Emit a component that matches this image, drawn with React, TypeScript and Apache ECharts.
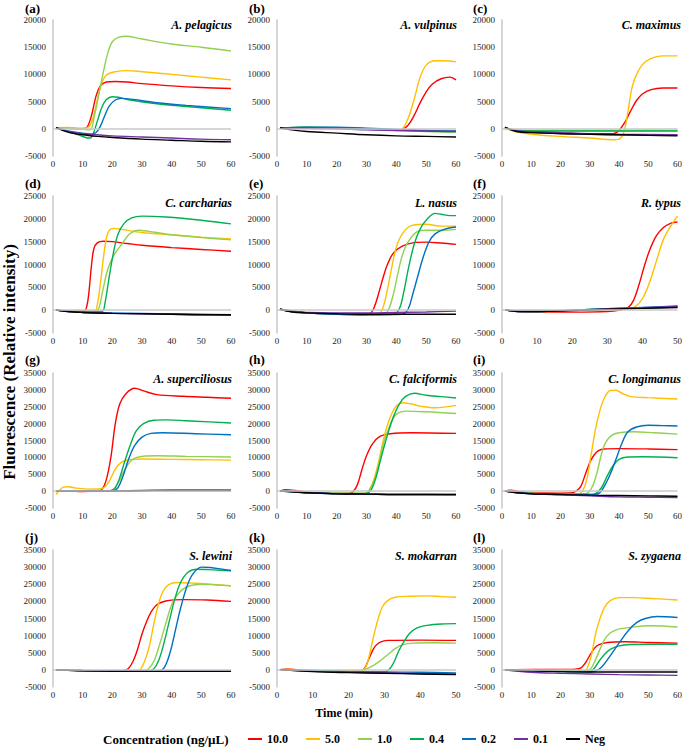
import React, { useEffect, useRef } from 'react';
import * as echarts from 'echarts';

const FONT = '"Liberation Serif", "Times New Roman", serif';

const CONC = ['10.0', '5.0', '1.0', '0.4', '0.2', '0.1', 'Neg'];
const COLORS = ['#FF0000', '#FFC000', '#92D050', '#00B050', '#0070C0', '#7030A0', '#000000'];
const PANEL_LABELS = ['(a)', '(b)', '(c)', '(d)', '(e)', '(f)', '(g)', '(h)', '(i)', '(j)', '(k)', '(l)'];
const SPECIES = ['A. pelagicus', 'A. vulpinus', 'C. maximus', 'C. carcharias', 'L. nasus', 'R. typus',
  'A. superciliosus', 'C. falciformis', 'C. longimanus', 'S. lewini', 'S. mokarran', 'S. zygaena'];
const X_MAX = [60, 60, 60, 60, 60, 50, 60, 60, 60, 60, 50, 60];
const Y_MAX = [20000, 20000, 20000, 25000, 25000, 25000, 35000, 35000, 35000, 35000, 35000, 35000];
const Y_MIN = -5000;
const X_TICK = 10;
const Y_TICK = 5000;

// (a) A. pelagicus
const a10 = [[1,200],[5,100],[10,0],[11.5,300],[13,2500],[14.5,6000],[16,7900],[18,8600],[21,8700],[25,8600],[30,8300],[40,7900],[50,7600],[60,7400]];
const a5 = [[1,200],[5,250],[10,100],[12,300],[13.5,2000],[15,5500],[16.5,8500],[18,9900],[21,10500],[25,10700],[30,10500],[40,10000],[50,9500],[60,9000]];
const a1 = [[1,200],[5,100],[10,-100],[12.5,-200],[14,2500],[15.5,6500],[17,10500],[18.5,14000],[20,16000],[22,16800],[25,17000],[30,16500],[40,15600],[50,15000],[60,14300]];
const a04 = [[1,200],[4,-300],[8,-1000],[11,-1600],[12.5,-1700],[13.5,-1000],[15,1500],[16.5,4000],[18,5400],[20,5900],[22,5800],[26,5300],[35,4600],[45,4100],[60,3400]];
const a02 = [[1,200],[5,-400],[10,-800],[13,-1000],[14.5,-700],[16,500],[17.5,2500],[19,4200],[21,5300],[23,5600],[27,5400],[35,4800],[45,4300],[60,3700]];
const a01 = [[1,200],[5,-500],[10,-900],[15,-1100],[20,-1300],[30,-1500],[40,-1700],[50,-1900],[60,-2000]];
const aNeg = [[1,200],[5,-600],[10,-1100],[15,-1400],[20,-1600],[30,-1900],[40,-2100],[50,-2300],[60,-2400]];

// (b) A. vulpinus
const b10 = [[1,100],[10,200],[20,100],[30,-100],[40,-200],[42,-100],[44,700],[46,2500],[48,4800],[50,6800],[52,8200],[55,9200],[58,9500],[60,9000]];
const b5 = [[1,100],[10,200],[20,100],[30,-100],[40,-200],[42,0],[44,2000],[46,5500],[48,9500],[50,11700],[53,12500],[56,12500],[60,12300]];
const b1 = [[1,100],[10,300],[20,200],[30,0],[40,-300],[50,-500],[60,-600]];
const b04 = [[1,100],[10,300],[20,200],[30,0],[40,-200],[50,-400],[60,-500]];
const b02 = [[1,100],[10,300],[20,300],[30,100],[40,-100],[50,-300],[60,-400]];
const b01 = [[1,100],[10,100],[20,0],[30,-200],[40,-300],[50,-400],[60,-500]];
const bNeg = [[1,200],[5,-200],[10,-500],[20,-800],[30,-1100],[40,-1300],[50,-1400],[60,-1500]];

// (c) C. maximus
const c10 = [[1,200],[5,-500],[10,-700],[20,-800],[30,-900],[38,-900],[40,-300],[42,1200],[44,3300],[46,5200],[48,6400],[51,7200],[55,7500],[60,7500]];
const c5 = [[1,200],[3,-300],[5,-600],[10,-1000],[20,-1400],[30,-1700],[38,-2000],[40,-1900],[41,-1400],[42,0],[43,3000],[44.5,7700],[46,10000],[48,11800],[50.5,12800],[55,13400],[60,13400]];
const c1 = [[1,200],[5,-200],[10,-300],[20,-300],[30,-300],[40,-300],[60,-300]];
const c04 = [[1,200],[5,-300],[10,-400],[20,-400],[30,-400],[40,-400],[60,-400]];
const c02 = [[1,200],[5,-400],[10,-600],[20,-800],[30,-1000],[40,-1100],[50,-1100],[60,-1200]];
const c01 = [[1,200],[5,-400],[10,-500],[20,-700],[30,-900],[40,-1000],[60,-1100]];
const cNeg = [[1,300],[5,-500],[10,-700],[20,-900],[30,-1000],[40,-1100],[50,-1200],[60,-1300]];

// (d) C. carcharias
const d10 = [[1,0],[5,-200],[10.5,-200],[11.5,1200],[12.2,4500],[13,10000],[13.8,13500],[15,14800],[17,15100],[20,15000],[25,14600],[30,14200],[40,13700],[50,13300],[60,12900]];
const d5 = [[1,0],[5,-200],[10,-300],[14,-300],[15,1500],[16,6000],[17,11500],[18,15800],[19,17500],[20.5,17900],[23,17700],[30,17000],[40,16500],[50,16000],[60,15600]];
const d1 = [[1,0],[5,-200],[10,-300],[14.5,-300],[15.5,500],[17,5000],[18.5,9000],[20.5,12000],[23,14300],[26,16800],[29,17500],[32,17300],[40,16500],[50,15900],[60,15400]];
const d04 = [[1,0],[5,-200],[10,-300],[16.5,-300],[17.5,1500],[19,7500],[20.5,13000],[22,16800],[24,19000],[26.5,20200],[30,20600],[38,20400],[50,19700],[60,18900]];
const d02 = [[1,0],[5,-300],[10,-500],[20,-600],[30,-700],[40,-800],[50,-900],[60,-1000]];
const d01 = [[1,100],[5,-300],[10,-500],[20,-700],[30,-800],[40,-900],[50,-1000],[60,-1100]];
const dNeg = [[1,100],[5,-300],[10,-500],[20,-700],[30,-800],[40,-900],[50,-1000],[60,-1000]];

// (e) L. nasus
const e10 = [[1,200],[5,-300],[10,-600],[20,-900],[28,-1000],[31,-800],[32.5,500],[34,3500],[35.5,7000],[37,10000],[39,12500],[42,14000],[46,14800],[50,14900],[55,14700],[60,14400]];
const e5 = [[1,200],[10,-600],[20,-800],[30,-900],[34,-800],[35.5,500],[37,4500],[38.5,9500],[40,13800],[42,16700],[45,18500],[50,18800],[55,18400],[60,18400]];
const e1 = [[1,200],[10,-600],[20,-800],[30,-900],[36,-800],[37.5,300],[39,3500],[40.5,8000],[42,12000],[44,15000],[47,17200],[50,17500],[55,17500],[60,17700]];
const e04 = [[1,200],[10,-600],[20,-900],[30,-1000],[39,-900],[41,300],[42.5,4000],[44,9000],[46,14500],[48,17800],[50,19700],[53,21200],[55,21000],[58,20700],[60,20700]];
const e02 = [[1,200],[10,-600],[20,-900],[30,-1000],[42,-900],[44,300],[45.5,3500],[47,7000],[49,11600],[51,15000],[53,16700],[56,17700],[60,18200]];
const e01 = [[1,200],[5,-300],[10,-500],[20,-600],[30,-600],[40,-500],[50,-400],[60,-200]];
const eNeg = [[1,200],[5,-400],[10,-600],[20,-800],[30,-900],[40,-900],[50,-900],[60,-900]];

// (f) R. typus
const f10 = [[1,0],[5,-300],[10,-400],[20,-400],[30,-300],[34,100],[36,600],[37.5,2200],[39,5500],[40.5,9500],[42,13000],[44,16300],[46,18100],[48,19000],[50,19300]];
const f5 = [[1,0],[5,-200],[10,-300],[20,-200],[30,0],[36,400],[38,800],[40,2500],[42,6000],[44,10800],[46,15500],[48,18300],[50,20600]];
const f1 = [[1,0],[5,-300],[10,-300],[20,0],[30,300],[40,500],[50,800]];
const f04 = [[1,0],[5,-300],[10,-300],[20,0],[30,250],[40,450],[50,700]];
const f02 = [[1,0],[5,-300],[10,-300],[20,0],[30,300],[40,600],[50,900]];
const f01 = [[1,0],[5,-300],[10,-300],[20,-50],[30,300],[40,550],[50,800]];
const fNeg = [[1,100],[5,-300],[10,-300],[20,-100],[30,200],[40,400],[50,600]];

// (g) A. superciliosus
const g10 = [[1,0],[5,0],[10,-100],[15,100],[16.5,500],[18,3500],[19.5,10000],[21,20000],[22.5,25800],[24.5,28800],[27.5,30500],[30.5,29700],[35,28600],[44,28100],[52,27800],[60,27500]];
const g5 = [[1,-1000],[2.3,300],[3.5,1200],[5,1300],[8,900],[12,600],[16,700],[17.5,1200],[19,3000],[21,6500],[23,8500],[25.5,9300],[30,9500],[40,9400],[50,9300],[60,9200]];
const g1 = [[1,0],[10,0],[19,100],[20.5,600],[22,2500],[24,6000],[26,8800],[28,9900],[31,10400],[35,10500],[45,10300],[60,10100]];
const g04 = [[1,0],[10,0],[19.5,100],[21,1000],[22.5,4000],[24,8300],[26,13500],[28,17800],[30.5,20000],[34,21000],[38,21100],[48,20700],[60,20200]];
const g02 = [[1,0],[10,0],[20.5,100],[22,1200],[23.5,4200],[25.5,9500],[27.5,13500],[30,16000],[33,17100],[37,17300],[48,17000],[60,16700]];
const g01 = [[1,0],[10,0],[20,100],[30,200],[40,300],[50,300],[60,300]];
const gNeg = [[1,0],[10,0],[20,0],[30,100],[40,200],[50,200],[60,200]];

// (h) C. falciformis
const h10 = [[1,0],[3,400],[6,200],[10,-300],[15,-600],[20,-700],[24,-700],[25.5,-200],[27,2000],[28.5,6500],[30,10500],[32,14000],[34.5,16200],[38,17000],[45,17300],[60,17100]];
const h5 = [[1,0],[10,-400],[20,-700],[29.5,-700],[31,500],[32.5,3500],[34,8500],[35.5,14500],[37,19500],[38.5,23000],[40,25200],[42,26200],[45,25800],[48,25200],[53,24700],[60,25400]];
const h1 = [[1,0],[10,-400],[20,-700],[29.5,-700],[31,300],[32.5,3000],[34,7500],[35.5,13500],[37,17500],[38.5,20800],[40,22800],[43,23700],[50,23500],[60,23000]];
const h04 = [[1,0],[10,-400],[20,-700],[30,-700],[31.5,300],[33,3500],[34.5,8500],[36,13500],[37.5,18000],[39,22000],[41,25800],[43,28000],[46,29000],[50,28400],[55,28000],[60,27600]];
const h02 = [[1,0],[5,-200],[10,-500],[20,-800],[30,-900],[40,-1000],[50,-1000],[60,-1000]];
const h01 = [[1,100],[5,-100],[10,-500],[20,-800],[30,-900],[40,-1000],[50,-1000],[60,-1100]];
const hNeg = [[1,100],[5,-200],[10,-500],[20,-800],[30,-900],[40,-1000],[50,-1000],[60,-1000]];

// (i) C. longimanus
const i10 = [[1,0],[3,300],[6,-200],[10,-500],[20,-600],[24,-500],[25.5,100],[27,1500],[28.5,5000],[30,8500],[31.5,10700],[33,12000],[35,12500],[40,12600],[50,12500],[60,12300]];
const i5 = [[1,0],[5,-400],[10,-700],[20,-800],[26,-800],[27.5,0],[29,3500],[30.5,11000],[32,18500],[33.5,24000],[35,27600],[37,29800],[39,29900],[41,29000],[44,28000],[50,27700],[60,27300]];
const i1 = [[1,0],[10,-600],[20,-800],[28,-800],[29.5,-400],[31,1500],[32.5,5500],[34,11000],[35.5,14500],[37.5,16500],[40,17300],[45,17600],[52,17300],[60,16900]];
const i04 = [[1,0],[10,-700],[20,-900],[30,-1000],[32,-700],[34,1000],[36,4500],[38,7600],[40,9400],[43,10100],[48,10200],[60,9900]];
const i02 = [[1,0],[10,-700],[20,-900],[30,-1000],[33,-700],[35,1500],[37,5000],[39,9500],[41,14200],[43,17500],[46,19000],[50,19500],[55,19400],[60,19300]];
const i01 = [[1,0],[5,-500],[10,-800],[20,-1100],[30,-1400],[40,-1700],[50,-1800],[60,-1900]];
const iNeg = [[1,0],[5,-500],[10,-800],[20,-1000],[30,-1200],[40,-1300],[50,-1400],[60,-1500]];

// (j) S. lewini
const j10 = [[1,0],[5,-100],[10,-200],[20,-300],[24,-200],[25.5,500],[27,2500],[28.5,6000],[30,10500],[31.5,14000],[33,16800],[35,19000],[38,20100],[44,20500],[52,20400],[60,20000]];
const j5 = [[1,0],[10,-200],[20,-300],[28,-300],[29.5,200],[31,2800],[32.5,7000],[34,13500],[35.5,19000],[37,22800],[39,24900],[42,25500],[48,25300],[55,24900],[60,24500]];
const j1 = [[1,0],[10,-200],[20,-300],[30,-300],[32,200],[34,2500],[36,7600],[38,13500],[40,19000],[42,22000],[45,24200],[50,25000],[55,24800],[60,24600]];
const j04 = [[1,0],[10,-200],[20,-300],[32,-300],[34,300],[35.5,2500],[37,6500],[39,13500],[41,20500],[43,25500],[45.5,28500],[48.5,29400],[54,29200],[60,28900]];
const j02 = [[1,0],[10,-200],[20,-300],[35,-300],[37,200],[38.5,2500],[40,6800],[41.5,12500],[43,18000],[45,24000],[47,27800],[50,30000],[53,29900],[57,29400],[60,29000]];
const j01 = [[1,0],[10,-200],[20,-300],[30,-300],[40,-300],[50,-300],[60,-300]];
const jNeg = [[1,0],[10,-300],[20,-400],[30,-400],[40,-400],[50,-400],[60,-400]];

// (k) S. mokarran
const k10 = [[1,0],[3,300],[6,0],[10,-200],[20,-400],[23.5,-300],[24.5,500],[25.5,2800],[26.5,5200],[27.5,7000],[29,8200],[31,8600],[40,8700],[50,8600]];
const k5 = [[1,0],[3,200],[5,0],[10,-200],[20,-400],[23,-400],[24.5,300],[25.5,3000],[26.5,7500],[27.5,12000],[28.5,15800],[29.5,18500],[31,20300],[33,21200],[37,21500],[42,21600],[46,21400],[50,21200]];
const k1 = [[1,0],[10,-200],[20,-400],[23.5,-300],[25,300],[27,1300],[29,2800],[31,4500],[33,6200],[35,7300],[38,7800],[44,7900],[50,7800]];
const k04 = [[1,0],[10,-300],[20,-500],[30,-600],[31,-200],[32,1000],[33,3000],[34,5500],[35.5,8300],[37,10600],[39,12200],[42,13000],[46,13400],[50,13500]];
const k02 = [[1,0],[10,-300],[20,-500],[30,-600],[40,-700],[50,-900]];
const k01 = [[1,0],[10,-400],[20,-700],[30,-900],[40,-1100],[50,-1200]];
const kNeg = [[1,100],[10,-500],[20,-800],[30,-1000],[40,-1200],[50,-1400]];

// (l) S. zygaena
const l10 = [[1,0],[10,100],[20,100],[25,200],[27,600],[28.5,2000],[30,4200],[31.5,6200],[33,7300],[36,8000],[42,8200],[50,8000],[60,7800]];
const l5 = [[1,0],[10,-200],[20,-400],[28,-400],[29,200],[30.5,4000],[32,10500],[33.5,15000],[35,18200],[37,20200],[40,21100],[45,21100],[52,20800],[60,20400]];
const l1 = [[1,0],[10,-200],[20,-400],[29,-300],[30.5,500],[32,3000],[34,7000],[36,10000],[39,11700],[44,12400],[50,12900],[55,12800],[60,12500]];
const l04 = [[1,0],[10,-200],[20,-400],[30,-400],[31.5,400],[33,2300],[35,4500],[37,6000],[40,7000],[44,7400],[50,7500],[60,7500]];
const l02 = [[1,0],[10,-300],[20,-500],[30,-600],[32,-300],[34,800],[36.5,3500],[40,7800],[43,11300],[46,13800],[49,15000],[53,15600],[60,15300]];
const l01 = [[1,0],[10,-700],[20,-1000],[30,-1200],[40,-1400],[50,-1500],[60,-1600]];
const lNeg = [[1,0],[10,-300],[20,-500],[30,-600],[35,-600],[40,-600],[50,-600],[60,-600]];

const PANEL_DATA = [
  [a10, a5, a1, a04, a02, a01, aNeg],
  [b10, b5, b1, b04, b02, b01, bNeg],
  [c10, c5, c1, c04, c02, c01, cNeg],
  [d10, d5, d1, d04, d02, d01, dNeg],
  [e10, e5, e1, e04, e02, e01, eNeg],
  [f10, f5, f1, f04, f02, f01, fNeg],
  [g10, g5, g1, g04, g02, g01, gNeg],
  [h10, h5, h1, h04, h02, h01, hNeg],
  [i10, i5, i1, i04, i02, i01, iNeg],
  [j10, j5, j1, j04, j02, j01, jNeg],
  [k10, k5, k1, k04, k02, k01, kNeg],
  [l10, l5, l1, l04, l02, l01, lNeg],
];

// layout (pixels)
const COL_LEFT = [53, 277, 502];
const COL_WIDTH = [178, 179, 178];
const ROW_TOP = [20, 196, 373, 550];
const ROW_HEIGHT = [136, 137, 135, 137];
const LABEL_X = [25, 249, 473];
const LABEL_Y = [8, 183, 359, 537];
const SPECIES_Y = [25, 203, 379, 556];

export default function App() {
  const ref = useRef<HTMLDivElement>(null);
  useEffect(() => {
    const chart = echarts.init(ref.current!, null, { renderer: 'svg' });
    const grid: any[] = [];
    const xAxis: any[] = [];
    const yAxis: any[] = [];
    const series: any[] = [];
    const graphic: any[] = [];
    for (let p = 0; p < 12; p++) {
      const r = Math.floor(p / 3);
      const c = p % 3;
      grid.push({ left: COL_LEFT[c], top: ROW_TOP[r], width: COL_WIDTH[c], height: ROW_HEIGHT[r], containLabel: false });
      xAxis.push({
        type: 'value', gridIndex: p, min: 0, max: X_MAX[p], interval: X_TICK,
        position: 'bottom',
        axisLine: { show: false, onZero: false },
        axisTick: { show: false },
        splitLine: { show: false },
        axisLabel: { fontFamily: FONT, fontSize: 9, color: '#222', margin: 3 },
      });
      yAxis.push({
        type: 'value', gridIndex: p, min: Y_MIN, max: Y_MAX[p], interval: Y_TICK,
        axisLine: { show: true, lineStyle: { color: '#C8C8C8', width: 1.5 } },
        axisTick: { show: false },
        splitLine: { show: false },
        axisLabel: { fontFamily: FONT, fontSize: 9, color: '#222', margin: 7, formatter: (v: number) => String(v) },
      });
      PANEL_DATA[p].forEach((d, s) => {
        const ser: any = {
          type: 'line', name: CONC[s], xAxisIndex: p, yAxisIndex: p,
          data: d, smooth: 0.35, symbol: 'none', showSymbol: false,
          lineStyle: { color: COLORS[s], width: 1.4 },
          itemStyle: { color: COLORS[s] },
          z: 3,
        };
        if (s === 0) {
          ser.markLine = {
            silent: true, symbol: 'none', label: { show: false },
            lineStyle: { color: '#C8C8C8', width: 1.5, type: 'solid' },
            data: [{ yAxis: 0 }],
          };
        }
        series.push(ser);
      });
      graphic.push({
        type: 'text', x: LABEL_X[c], y: LABEL_Y[r],
        style: { text: PANEL_LABELS[p], fontFamily: FONT, fontWeight: 'bold', fontSize: 13, fill: '#000', textAlign: 'left', textVerticalAlign: 'middle' },
      });
      graphic.push({
        type: 'text', x: COL_LEFT[c] + COL_WIDTH[c] + 1, y: SPECIES_Y[r],
        style: { text: SPECIES[p], fontFamily: FONT, fontWeight: 'bold', fontStyle: 'italic', fontSize: 12, fill: '#000', textAlign: 'right', textVerticalAlign: 'middle' },
      });
    }
    graphic.push({
      type: 'text', x: 9, y: 362, rotation: Math.PI / 2,
      style: { text: 'Fluorescence (Relative intensity)', fontFamily: FONT, fontWeight: 'bold', fontSize: 17, fill: '#000', textAlign: 'center', textVerticalAlign: 'middle' },
    });
    graphic.push({
      type: 'text', x: 344, y: 713,
      style: { text: 'Time (min)', fontFamily: FONT, fontWeight: 'bold', fontSize: 12, fill: '#000', textAlign: 'center', textVerticalAlign: 'middle' },
    });
    graphic.push({
      type: 'text', x: 103, y: 739,
      style: { text: 'Concentration (ng/µL)', fontFamily: FONT, fontWeight: 'bold', fontSize: 13, fill: '#000', textAlign: 'left', textVerticalAlign: 'middle' },
    });
    chart.setOption({
      animation: false,
      backgroundColor: '#fff',
      grid, xAxis, yAxis, series, graphic,
      legend: {
        data: CONC, left: 248, top: 732, padding: 0, itemWidth: 14, itemHeight: 2, itemGap: 18,
        icon: 'rect',
        textStyle: { fontFamily: FONT, fontWeight: 'bold', fontSize: 12, color: '#000', lineHeight: 14 },
        selectedMode: false,
      },
    });
    return () => chart.dispose();
  }, []);
  return <div ref={ref} style={{ position: 'fixed', left: 0, top: 0, width: 685, height: 747, background: '#fff' }} />;
}
